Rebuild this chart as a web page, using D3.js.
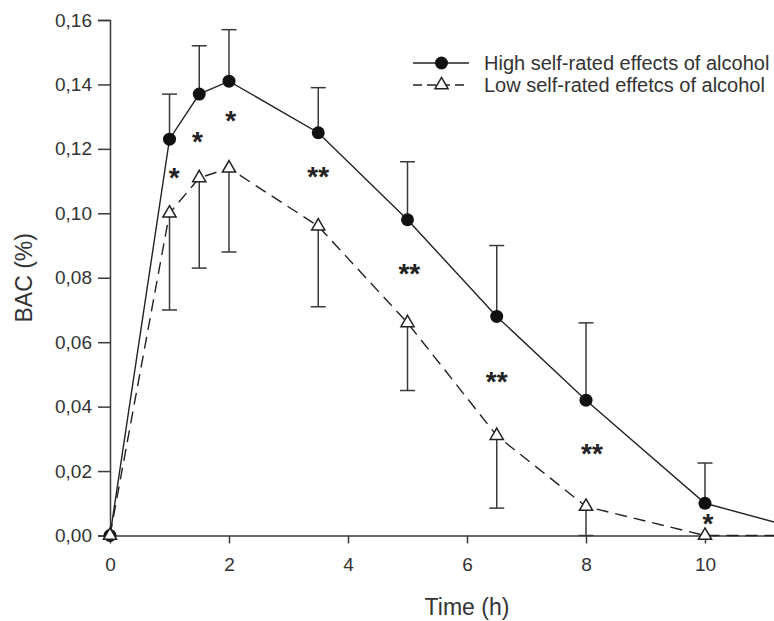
<!DOCTYPE html>
<html lang="en">
<head>
  <meta charset="UTF-8">
  <title>BAC over time</title>
  <style>
    body { margin: 0; background: #fff; }
    svg { display: block; font-family: "Liberation Sans", Arial, sans-serif; }
  </style>
</head>
<body>
  <script src="https://d3js.org/d3.v7.min.js"></script>
  <div id="chart"></div>
  <script>
    // data
    var time = [0, 1, 1.5, 2, 3.5, 5, 6.5, 8, 10, 12];
    var highMean = [0, 0.123, 0.137, 0.141, 0.125, 0.098, 0.068, 0.042, 0.010, 0];
    var highUpper = [null, 0.137, 0.152, 0.157, 0.139, 0.116, 0.090, 0.066, 0.0225, null];
    var lowMean = [0, 0.100, 0.111, 0.114, 0.096, 0.066, 0.031, 0.009, 0, 0];
    var lowLower = [null, 0.070, 0.083, 0.088, 0.071, 0.045, 0.0085, 0, null, null];

    // significance marks
    var sigTime = [1.08, 1.47, 2.03, 3.5, 5.03, 6.5, 8.1, 10.05];
    var sigValue = [0.113, 0.1243, 0.1307, 0.1134, 0.0833, 0.0498, 0.0274, 0.0058];
    var sigLabel = ["*", "*", "*", "**", "**", "**", "**", "*"];

    var xTicks = [0, 2, 4, 6, 8, 10];
    var yTicks = [0, 0.02, 0.04, 0.06, 0.08, 0.10, 0.12, 0.14, 0.16];
    var seriesNames = ["High self-rated effects of alcohol", "Low self-rated effetcs of alcohol"];

    var W = 774, H = 621;
    var svg = d3.select("#chart").append("svg")
      .attr("width", W).attr("height", H);

    // the x range runs past the right edge, as in the cropped original
    var x = d3.scaleLinear().domain([0, 12]).range([110, 824]);
    var y = d3.scaleLinear().domain([0, 0.16]).range([535.5, 20]);

    var axisColor = "#3a3a3a";
    var fmt = function (d) { return d3.format(".2f")(d).replace(".", ","); };

    // axes
    var gx = svg.append("g")
      .attr("transform", "translate(0," + y(0) + ")")
      .call(d3.axisBottom(x).tickValues(xTicks).tickSize(8).tickSizeOuter(0).tickPadding(14));
    var gy = svg.append("g")
      .attr("transform", "translate(" + x(0) + ",0)")
      .call(d3.axisLeft(y).tickValues(yTicks).tickFormat(fmt).tickSize(12).tickPadding(6));

    [gx, gy].forEach(function (g) {
      g.selectAll("path, line").attr("stroke", axisColor).attr("stroke-width", 1.5);
      g.selectAll("text").attr("fill", "#333").style("font-size", "19px");
    });

    svg.append("text")
      .attr("x", x(6)).attr("y", 615)
      .attr("text-anchor", "middle")
      .attr("fill", "#333").style("font-size", "23px")
      .text("Time (h)");

    svg.append("text")
      .attr("transform", "translate(32," + ((y(0) + y(0.16)) / 2) + ") rotate(-90)")
      .attr("text-anchor", "middle")
      .attr("fill", "#333").style("font-size", "23px")
      .text("BAC (%)");

    var high = time.map(function (t, i) { return { t: t, v: highMean[i], e: highUpper[i] }; });
    var low = time.map(function (t, i) { return { t: t, v: lowMean[i], e: lowLower[i] }; });

    var line = d3.line().x(function (d) { return x(d.t); }).y(function (d) { return y(d.v); });

    // error bars (up for high, down for low)
    function errorBars(data) {
      var g = svg.append("g").attr("stroke", "#3a3a3a").attr("stroke-width", 1.5);
      var ok = data.filter(function (d) { return d.e !== null; });
      g.selectAll("line.v").data(ok).enter().append("line")
        .attr("x1", function (d) { return x(d.t); }).attr("x2", function (d) { return x(d.t); })
        .attr("y1", function (d) { return y(d.v); }).attr("y2", function (d) { return y(d.e); });
      g.selectAll("line.c").data(ok).enter().append("line")
        .attr("x1", function (d) { return x(d.t) - 7.5; }).attr("x2", function (d) { return x(d.t) + 7.5; })
        .attr("y1", function (d) { return y(d.e); }).attr("y2", function (d) { return y(d.e); });
    }
    errorBars(high);
    errorBars(low);

    svg.append("path").datum(high)
      .attr("d", line).attr("fill", "none")
      .attr("stroke", "#222").attr("stroke-width", 1.4);
    svg.append("path").datum(low)
      .attr("d", line).attr("fill", "none")
      .attr("stroke", "#222").attr("stroke-width", 1.4)
      .attr("stroke-dasharray", "12,7");

    var tri = d3.symbol().type(d3.symbolTriangle).size(75);

    svg.selectAll("circle.high").data(high).enter().append("circle")
      .attr("cx", function (d) { return x(d.t); })
      .attr("cy", function (d) { return y(d.v); })
      .attr("r", 6.5).attr("fill", "#111");

    svg.selectAll("path.low").data(low).enter().append("path")
      .attr("d", tri)
      .attr("transform", function (d) { return "translate(" + x(d.t) + "," + y(d.v) + ")"; })
      .attr("fill", "#fff").attr("stroke", "#222").attr("stroke-width", 1.5);

    // asterisks
    svg.selectAll("text.sig").data(sigTime).enter().append("text")
      .attr("x", function (d) { return x(d); })
      .attr("y", function (d, i) { return y(sigValue[i]) + 16; })
      .attr("text-anchor", "middle")
      .attr("fill", "#222")
      .style("font-size", "28px").style("font-weight", "bold")
      .text(function (d, i) { return sigLabel[i]; });

    // legend
    var leg = svg.append("g");
    var legY = [63, 85];
    leg.append("line").attr("x1", 413).attr("x2", 469).attr("y1", legY[0]).attr("y2", legY[0])
      .attr("stroke", "#222").attr("stroke-width", 1.4);
    leg.append("circle").attr("cx", 441.5).attr("cy", legY[0]).attr("r", 6.5).attr("fill", "#111");
    leg.append("line").attr("x1", 413).attr("x2", 469).attr("y1", legY[1]).attr("y2", legY[1])
      .attr("stroke", "#222").attr("stroke-width", 1.4).attr("stroke-dasharray", "9,5");
    leg.append("path").attr("d", tri)
      .attr("transform", "translate(441.5," + legY[1] + ")")
      .attr("fill", "#fff").attr("stroke", "#222").attr("stroke-width", 1.5);
    leg.selectAll("text").data(seriesNames).enter().append("text")
      .attr("x", 484).attr("y", function (d, i) { return legY[i] + 7; })
      .attr("fill", "#333").style("font-size", "20px")
      .text(function (d) { return d; });
  </script>
</body>
</html>
